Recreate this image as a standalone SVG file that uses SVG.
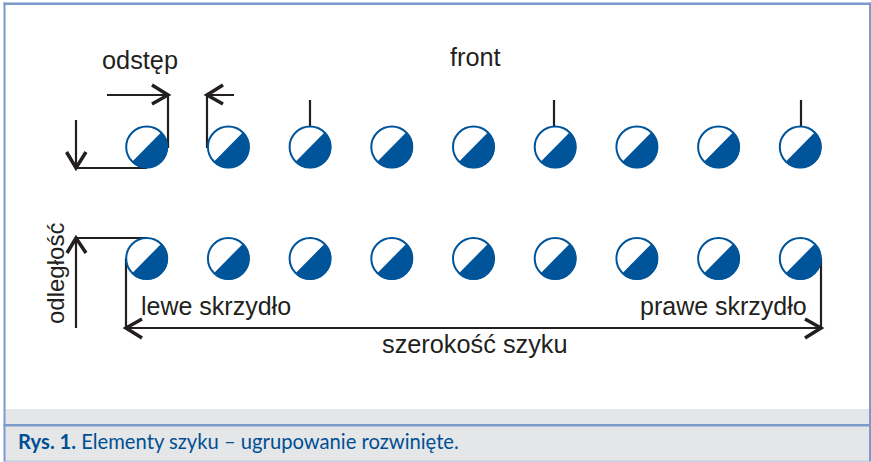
<svg xmlns="http://www.w3.org/2000/svg" width="871" height="462" viewBox="0 0 871 462">
<style>
.t{font-family:"Liberation Sans",Arial,sans-serif;font-size:25px;fill:#231f20}
.b{font-size:25.300px}
.c{font-family:Lato,"Open Sans",sans-serif;font-size:20.200px;fill:#004f93}
.l{fill:none;stroke:#231f20;stroke-width:2.200}
.a{fill:none;stroke:#231f20;stroke-width:3.500}
.o{fill:#fff;stroke:#00549a;stroke-width:2}
.h{fill:#00549a}
</style>
<defs>
<g id="s"><circle class="o" r="20.500"/><path class="h" d="M-14.800 15.100A21 21 0 0 0 14.800 -15.100Z"/></g>
</defs>
<rect width="871" height="462" fill="#fff"/>
<rect x="4" y="409" width="866" height="53" fill="#e5e6e8"/>
<rect x="4" y="460.500" width="866" height="1.500" fill="#c5d0e2"/>
<g fill="#7b9ac9">
<rect x="3.500" y="2.500" width="867" height="2.500"/>
<rect x="3.500" y="2.500" width="2" height="459"/>
<rect x="869" y="2.500" width="2" height="459"/>
<rect x="3.500" y="424" width="867" height="2.500"/>
</g>
<g id="connectors">
<path class="l" d="M107 95H168V148"/>
<path class="a" d="M152 85L168 95L152 104"/>
<path class="l" d="M207 148V95H234"/>
<path class="a" d="M223 85L207 95L223 104"/>
<path class="l" d="M76 120V168H147"/>
<path class="a" d="M66.500 152L76 168L86 152"/>
<path class="l" d="M310 100V126M554 100V126M801 100V126"/>
<path class="l" d="M76 328V238H146"/>
<path class="a" d="M67 253L76 238L86 253"/>
<path class="l" d="M126 258V328H821V258"/>
<path class="a" d="M142 319L126 328L142 338M805 319L821 328L805 338"/>
</g>
<g id="row1">
<use id="n1" href="#s" x="146.700" y="147"/>
<use id="n2" href="#s" x="228.400" y="147"/>
<use id="n3" href="#s" x="310.100" y="147"/>
<use id="n4" href="#s" x="391.800" y="147"/>
<use id="n5" href="#s" x="473.500" y="147"/>
<use id="n6" href="#s" x="555.200" y="147"/>
<use id="n7" href="#s" x="636.900" y="147"/>
<use id="n8" href="#s" x="718.600" y="147"/>
<use id="n9" href="#s" x="800.300" y="147"/>
</g>
<g id="row2">
<use id="m1" href="#s" x="146.700" y="258.500"/>
<use id="m2" href="#s" x="228.400" y="258.500"/>
<use id="m3" href="#s" x="310.100" y="258.500"/>
<use id="m4" href="#s" x="391.800" y="258.500"/>
<use id="m5" href="#s" x="473.500" y="258.500"/>
<use id="m6" href="#s" x="555.200" y="258.500"/>
<use id="m7" href="#s" x="636.900" y="258.500"/>
<use id="m8" href="#s" x="718.600" y="258.500"/>
<use id="m9" href="#s" x="800.300" y="258.500"/>
</g>
<g id="labels">
<text class="t b" x="102" y="69">odstęp</text>
<text class="t b" x="450" y="66">front</text>
<text class="t" style="font-size:24px" transform="translate(64 324) rotate(-90)">odległość</text>
<text class="t" x="141" y="315">lewe skrzydło</text>
<text class="t" x="640" y="315">prawe skrzydło</text>
<text class="t b" x="382" y="353">szerokość szyku</text>
</g>
<text class="c" x="18" y="449"><tspan font-weight="700">Rys. 1.</tspan> Elementy szyku – ugrupowanie rozwinięte.</text>
</svg>
